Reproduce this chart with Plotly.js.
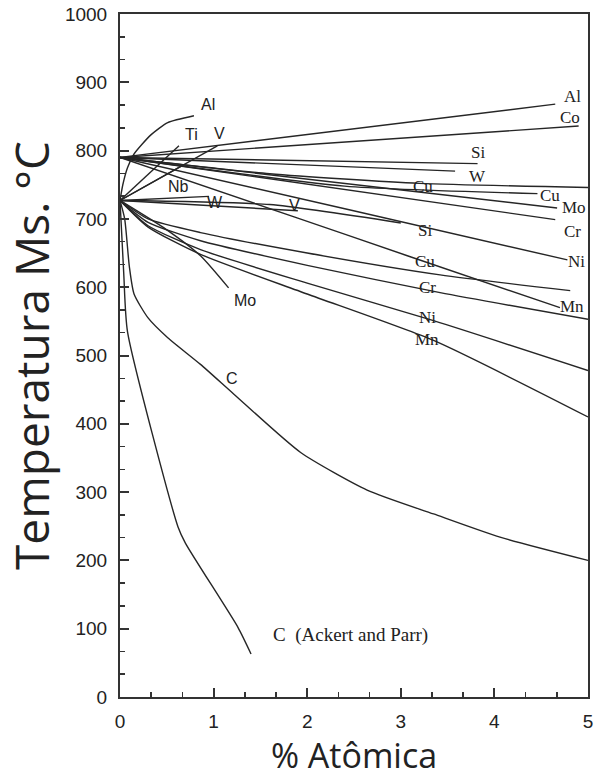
<!DOCTYPE html>
<html>
<head>
<meta charset="utf-8">
<script src="https://cdn.plot.ly/plotly-3.0.1.min.js"></script>
<style>html,body{margin:0;padding:0;background:#fff;}#chart{width:594px;height:778px;}</style>
</head>
<body>
<div id="chart"></div>
<script>
// ---- data (x = % atomic, y = Ms temperature in °C) ----
// upper family (starts near 790 °C)
const alHiX = [0, 4.65];               const alHiY = [790, 868];
const coX   = [0, 4.9];                const coY   = [790, 836];
const siHiX = [0, 3.82];               const siHiY = [790, 781];
const wHiX  = [0, 3.58];               const wHiY  = [790, 770];
const cuAX  = [0, 1.6, 3.2, 5];        const cuAY  = [790, 766, 752, 746];
const cuBX  = [0, 2.4, 4.46];          const cuBY  = [790, 748, 737];
const moHiX = [0, 4.67];               const moHiY = [790, 716];
const crHiX = [0, 4.65];               const crHiY = [790, 699];
const niHiX = [0, 2.46, 4.78];         const niHiY = [790, 713, 640];
const mnHiX = [0, 1.86, 3.07, 4.70];   const mnHiY = [790, 703, 646, 570];
// lower family (starts near 727 °C)
const alLoX = [0, 0.03, 0.08, 0.15, 0.33, 0.51, 0.79]; const alLoY = [727, 750, 775, 795, 823, 841, 851];
const tiX   = [0, 0.63];               const tiY   = [727, 807];
const vHiX  = [0, 1.04];               const vHiY  = [727, 807];
const nbX   = [0, 0.68];               const nbY   = [727, 779];
const wLoX  = [0, 0.95];               const wLoY  = [727, 733];
const vLoX  = [0, 1.9];                const vLoY  = [727, 712];
const siLoX = [0, 1.6, 3.0];           const siLoY = [727, 721, 694];
const cuLoX = [0, 0.3, 0.86, 2.0, 3.42, 4.81]; const cuLoY = [727, 700, 680, 650, 618, 595];
const crLoX = [0, 0.3, 0.86, 2.0, 3.42, 5];    const crLoY = [727, 695, 668, 632, 592, 553];
const niLoX = [0, 0.3, 0.86, 2.0, 3.35, 5];    const niLoY = [727, 690, 655, 606, 551, 478];
const mnLoX = [0, 0.3, 0.86, 2.0, 3.35, 5];    const mnLoY = [727, 688, 648, 590, 522, 410];
const moLoX = [0, 0.5, 0.86, 1.16];            const moLoY = [727, 684, 646, 599];
const cX    = [0, 0.05, 0.1, 0.15, 0.3, 0.51, 0.86, 1.22, 1.93, 2.64, 3.35, 4.06, 5];
const cY    = [727, 700, 630, 590, 555, 526, 487, 443, 358, 303, 268, 234, 200];
const cApX  = [0, 0.04, 0.08, 0.62, 0.7, 1.26, 1.4];
const cApY  = [727, 620, 535, 249, 225, 102, 63];

// curve labels
const sansText = ['Al', 'Ti', 'V', 'Nb', 'W', 'V', 'Mo', 'C'];
const sansX    = [0.94, 0.76, 1.06, 0.63, 1.02, 1.86, 1.34, 1.20];
const sansY    = [867, 823, 825, 747, 724, 719, 580, 466];
const serifText = ['Al', 'Co', 'Si', 'W', 'Cu', 'Cu', 'Mo', 'Cr', 'Si', 'Ni', 'Cu', 'Cr', 'Mn', 'Ni', 'Mn'];
const serifX    = [4.83, 4.81, 3.83, 3.82, 3.24, 4.59, 4.85, 4.83, 3.26, 4.88, 3.26, 3.28, 4.83, 3.28, 3.28];
const serifY    = [879, 848, 797, 762, 747, 734, 717, 681, 683, 637, 637, 599, 572, 556, 523];
const sourceText = 'C\u00a0\u00a0(Ackert and Parr)';
const sourceX = 2.46;
const sourceY = 91;

const xTickVals = [0, 1, 2, 3, 4, 5];
const yTickVals = [0, 100, 200, 300, 400, 500, 600, 700, 800, 900, 1000];

// ---- traces ----
const curves = [
  [alHiX, alHiY], [coX, coY], [siHiX, siHiY], [wHiX, wHiY], [cuAX, cuAY], [cuBX, cuBY],
  [moHiX, moHiY], [crHiX, crHiY], [niHiX, niHiY], [mnHiX, mnHiY],
  [alLoX, alLoY], [tiX, tiY], [vHiX, vHiY], [nbX, nbY], [wLoX, wLoY], [vLoX, vLoY],
  [siLoX, siLoY], [cuLoX, cuLoY], [crLoX, crLoY], [niLoX, niLoY], [mnLoX, mnLoY],
  [moLoX, moLoY], [cX, cY], [cApX, cApY]
];
const traces = curves.map(function (c) {
  return {x: c[0], y: c[1], type: 'scatter', mode: 'lines',
          line: {color: '#262626', width: 1.4, shape: 'spline', smoothing: 0.6},
          hoverinfo: 'skip', showlegend: false, cliponaxis: true};
});

const annotations = [];
sansText.forEach(function (t, i) {
  annotations.push({x: sansX[i], y: sansY[i], xref: 'x', yref: 'y', text: t, showarrow: false,
    font: {family: 'Liberation Sans, Arial, sans-serif', size: 16, color: '#222'}});
});
serifText.forEach(function (t, i) {
  annotations.push({x: serifX[i], y: serifY[i], xref: 'x', yref: 'y', text: t, showarrow: false,
    font: {family: 'Liberation Serif, Times New Roman, serif', size: 17, color: '#222'}});
});
annotations.push({x: sourceX, y: sourceY, xref: 'x', yref: 'y', text: sourceText, showarrow: false,
  font: {family: 'Liberation Serif, Times New Roman, serif', size: 19, color: '#222'}});

const axisCommon = {
  showgrid: false, zeroline: false, showline: true, linecolor: '#333', linewidth: 2,
  mirror: true, ticks: 'inside', ticklen: 9, tickwidth: 2, tickcolor: '#333',
  tickfont: {family: 'Liberation Sans, Arial, sans-serif', size: 19, color: '#222'},
  ticklabelstandoff: 7
};

const layout = {
  width: 594, height: 778,
  margin: {l: 120, r: 6, t: 14, b: 81},
  paper_bgcolor: '#fff', plot_bgcolor: '#fff',
  xaxis: Object.assign({}, axisCommon, {
    range: [0, 5], tickvals: xTickVals, ticktext: xTickVals.map(String),
    ticklabelstandoff: 6,
    minor: {dtick: 1 / 3, tick0: 0, ticks: 'inside', ticklen: 5, tickwidth: 1.5, tickcolor: '#333'},
    title: {text: '% Atômica', standoff: 12,
            font: {family: 'Open Sans, sans-serif', size: 34, color: '#222'}}
  }),
  yaxis: Object.assign({}, axisCommon, {
    range: [0, 1000], tickvals: yTickVals, ticktext: yTickVals.map(String),
    minor: {dtick: 100 / 3, tick0: 0, ticks: 'inside', ticklen: 5, tickwidth: 1.5, tickcolor: '#333'},
    title: {text: 'Temperatura Ms. °C', standoff: 6,
            font: {family: 'Open Sans, sans-serif', size: 46, color: '#222'}}
  }),
  annotations: annotations
};

Plotly.newPlot('chart', traces, layout, {staticPlot: true, displayModeBar: false});
</script>
</body>
</html>
